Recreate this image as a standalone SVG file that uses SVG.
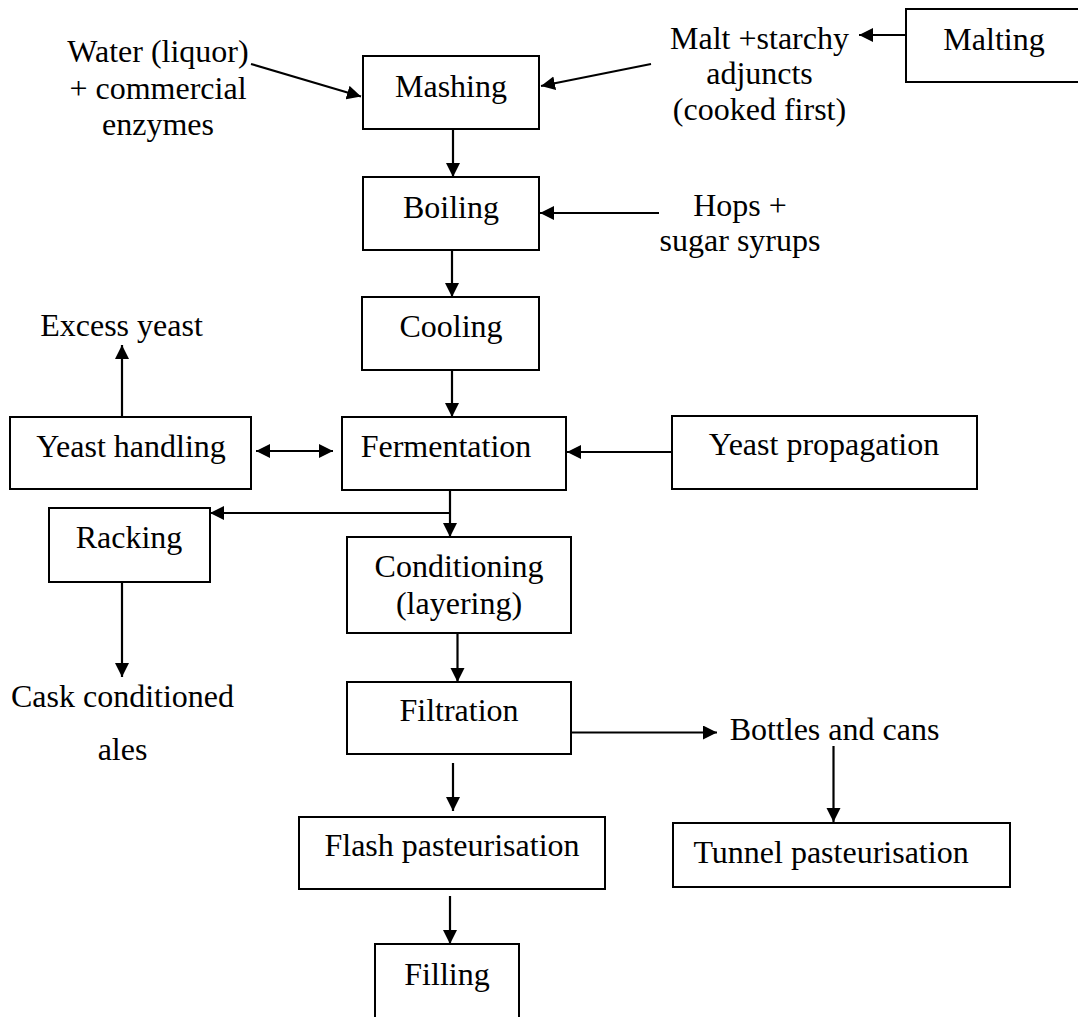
<svg xmlns="http://www.w3.org/2000/svg" width="1078" height="1017" viewBox="0 0 1078 1017">
<style>
.box{fill:#fff;stroke:#000;stroke-width:2}
.t{font-family:"Liberation Serif","Times New Roman",serif;font-size:32px;fill:#000;text-anchor:middle}
.c{fill:none;stroke:#000;stroke-width:2.2}
</style>
<defs>
<marker id="ah" markerUnits="userSpaceOnUse" markerWidth="15" markerHeight="15" refX="14" refY="7" orient="auto-start-reverse" viewBox="0 0 15 15">
<path d="M0,0 L14,7 L0,14 z" fill="#000"/>
</marker>
</defs>
<rect width="1078" height="1017" fill="#fff"/>
<g id="connectors">
<line class="c" x1="251" y1="64" x2="361" y2="96.5" marker-end="url(#ah)"/>
<line class="c" x1="651" y1="64" x2="541" y2="86" marker-end="url(#ah)"/>
<line class="c" x1="906" y1="35" x2="859" y2="35" marker-end="url(#ah)"/>
<line class="c" x1="453" y1="129" x2="453" y2="177" marker-end="url(#ah)"/>
<line class="c" x1="659" y1="213" x2="540" y2="213" marker-end="url(#ah)"/>
<line class="c" x1="452" y1="250" x2="452" y2="297" marker-end="url(#ah)"/>
<line class="c" x1="452" y1="370" x2="452" y2="417" marker-end="url(#ah)"/>
<line class="c" x1="122" y1="417" x2="122" y2="345" marker-end="url(#ah)"/>
<line class="c" x1="256" y1="451" x2="333" y2="451" marker-start="url(#ah)" marker-end="url(#ah)"/>
<line class="c" x1="672" y1="452" x2="567" y2="452" marker-end="url(#ah)"/>
<line class="c" x1="450" y1="490" x2="450" y2="537" marker-end="url(#ah)"/>
<line class="c" x1="450" y1="513" x2="210" y2="513" marker-end="url(#ah)"/>
<line class="c" x1="122" y1="582" x2="122" y2="677" marker-end="url(#ah)"/>
<line class="c" x1="457.5" y1="633" x2="457.5" y2="682" marker-end="url(#ah)"/>
<line class="c" x1="571" y1="732.5" x2="717" y2="732.5" marker-end="url(#ah)"/>
<line class="c" x1="453" y1="763" x2="453" y2="811" marker-end="url(#ah)"/>
<line class="c" x1="833.5" y1="746" x2="833.5" y2="822" marker-end="url(#ah)"/>
<line class="c" x1="450" y1="896" x2="450" y2="944" marker-end="url(#ah)"/>
</g>
<g id="water"><text class="t" x="158" y="62">Water (liquor)</text><text class="t" x="158" y="98.5">+ commercial</text><text class="t" x="158" y="135">enzymes</text></g>
<g id="malt"><text class="t" x="759.5" y="48.5">Malt +starchy</text><text class="t" x="759.5" y="84">adjuncts</text><text class="t" x="759.5" y="120">(cooked first)</text></g>
<g id="malting"><rect class="box" x="906" y="9" width="200" height="73"/><text class="t" x="994" y="49.5">Malting</text></g>
<g id="mashing"><rect class="box" x="363" y="56" width="176" height="73"/><text class="t" x="451" y="96.5">Mashing</text></g>
<g id="boiling"><rect class="box" x="363" y="177" width="176" height="73"/><text class="t" x="451" y="217.5">Boiling</text></g>
<g id="hops"><text class="t" x="740" y="216">Hops +</text><text class="t" x="740" y="251">sugar syrups</text></g>
<g id="cooling"><rect class="box" x="362" y="297" width="177" height="73"/><text class="t" x="451" y="336.5">Cooling</text></g>
<g id="excess"><text class="t" x="121.5" y="336">Excess yeast</text></g>
<g id="yeasthandling"><rect class="box" x="10" y="417" width="241" height="72"/><text class="t" x="131" y="456.5">Yeast handling</text></g>
<g id="fermentation"><rect class="box" x="342" y="417" width="224" height="73"/><text class="t" x="446" y="456.5">Fermentation</text></g>
<g id="yeastprop"><rect class="box" x="672" y="416" width="305" height="73"/><text class="t" x="824" y="455">Yeast propagation</text></g>
<g id="racking"><rect class="box" x="49" y="508" width="161" height="74"/><text class="t" x="129" y="548">Racking</text></g>
<g id="conditioning"><rect class="box" x="347" y="537" width="224" height="96"/><text class="t" x="459" y="577">Conditioning</text><text class="t" x="459" y="614">(layering)</text></g>
<g id="cask"><text class="t" x="122.5" y="706.5">Cask conditioned</text><text class="t" x="122.5" y="760">ales</text></g>
<g id="filtration"><rect class="box" x="347" y="682" width="224" height="72"/><text class="t" x="459" y="721">Filtration</text></g>
<g id="bottles"><text class="t" x="834.5" y="740">Bottles and cans</text></g>
<g id="flash"><rect class="box" x="299" y="817" width="306" height="72"/><text class="t" x="452" y="856">Flash pasteurisation</text></g>
<g id="tunnel"><rect class="box" x="673" y="823" width="337" height="64"/><text class="t" x="831" y="862.5">Tunnel pasteurisation</text></g>
<g id="filling"><rect class="box" x="375" y="944" width="144" height="120"/><text class="t" x="447" y="984.5">Filling</text></g>
</svg>
